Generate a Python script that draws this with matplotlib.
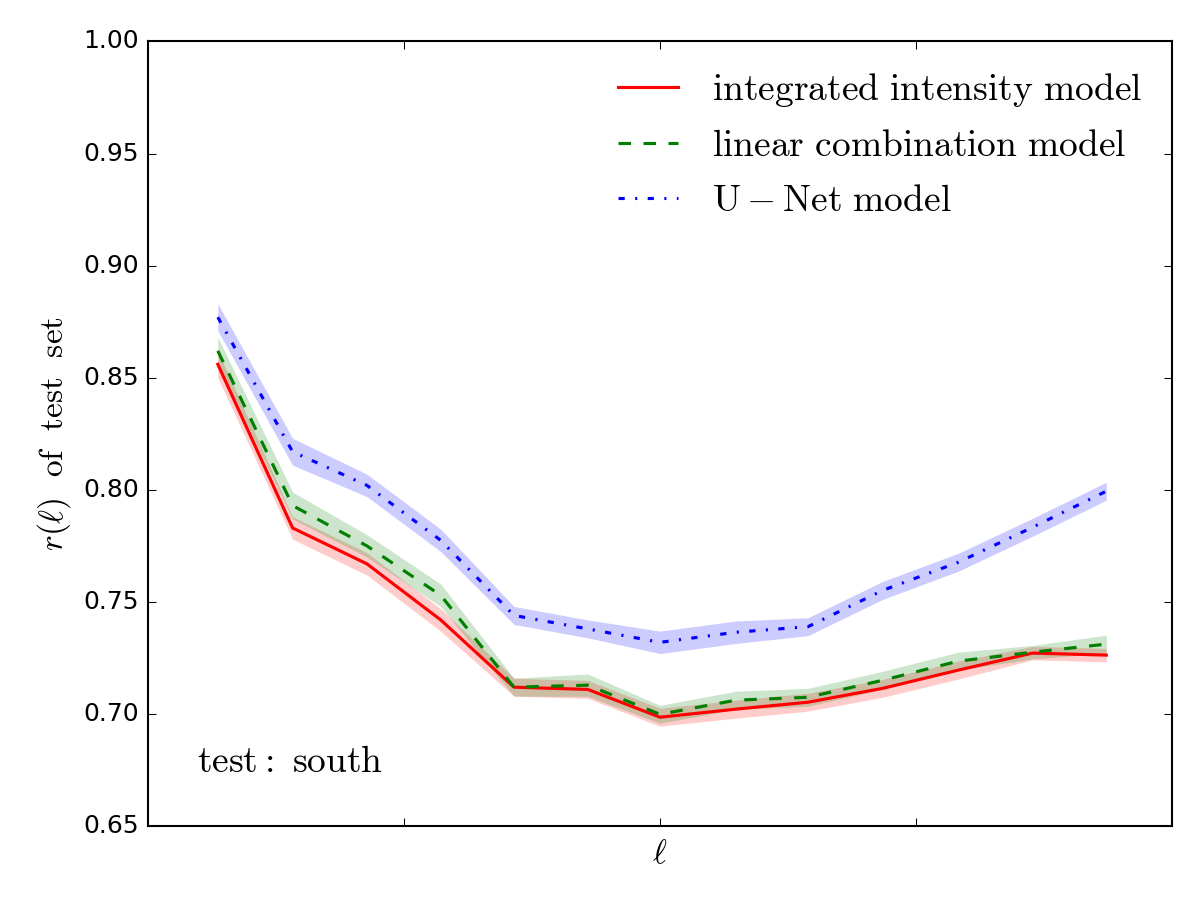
import numpy as np
import matplotlib
matplotlib.use("Agg")
import matplotlib.pyplot as plt

plt.style.use("classic")
plt.rcParams["mathtext.fontset"] = "cm"

# multipole bin centres
ell = [137, 283, 428, 572, 715, 859, 1000, 1148, 1289, 1435, 1582, 1727, 1871]

r_int = [0.856, 0.783, 0.767, 0.742, 0.712, 0.711, 0.6986, 0.7022, 0.7053, 0.7115, 0.7196, 0.7272, 0.7263]
r_lin = [0.862, 0.793, 0.775, 0.753, 0.712, 0.7129, 0.6999, 0.7062, 0.7075, 0.7151, 0.7236, 0.7276, 0.7312]
r_unet = [0.877, 0.817, 0.802, 0.7775, 0.744, 0.738, 0.732, 0.7365, 0.739, 0.7552, 0.7677, 0.7833, 0.7994]

err_int = [0.006, 0.005, 0.005, 0.005, 0.004, 0.004, 0.004, 0.004, 0.004, 0.004, 0.004, 0.003, 0.003]
err_lin = [0.006, 0.006, 0.005, 0.005, 0.004, 0.005, 0.004, 0.004, 0.004, 0.004, 0.004, 0.003, 0.004]
err_unet = [0.006, 0.006, 0.005, 0.005, 0.004, 0.004, 0.005, 0.005, 0.004, 0.004, 0.004, 0.004, 0.004]

ell = np.array(ell)
fig, ax = plt.subplots(figsize=(8, 6))
fig.subplots_adjust(left=0.123, right=0.977, top=0.954, bottom=0.082)

series = [
    (r_int, err_int, "r", "-", r"$\rm integrated\ intensity\ model$"),
    (r_lin, err_lin, "g", "--", r"$\rm linear\ combination\ model$"),
    (r_unet, err_unet, "b", "-.", r"$\rm U-Net\ model$"),
]
for r, e, c, ls, lab in series:
    r = np.array(r)
    e = np.array(e)
    ax.plot(ell, r, color=c, ls=ls, lw=1.5, label=lab)
    ax.fill_between(ell, r - e, r + e, color=c, alpha=0.2, lw=0)

ax.set_xlim(0, 2000)
ax.set_xticks([500, 1000, 1500])
ax.set_xticklabels([])
ax.set_ylim(0.65, 1.0)
ax.set_yticks(np.arange(0.65, 1.001, 0.05))
ax.tick_params(labelsize=12)

ax.set_xlabel(r"$\ell$", fontsize=16, labelpad=1)
ax.set_ylabel(r"$r(\ell)\ \ \rm of\ \ test\ \ set$", fontsize=16)
ax.text(0.048, 0.069, r"$\rm test:\ south$", transform=ax.transAxes, fontsize=18)

ax.legend(loc="upper right", frameon=False, fontsize=18, handlelength=2.2,
          handletextpad=0.6, borderaxespad=0.4)

fig.savefig("out.png", dpi=150)
